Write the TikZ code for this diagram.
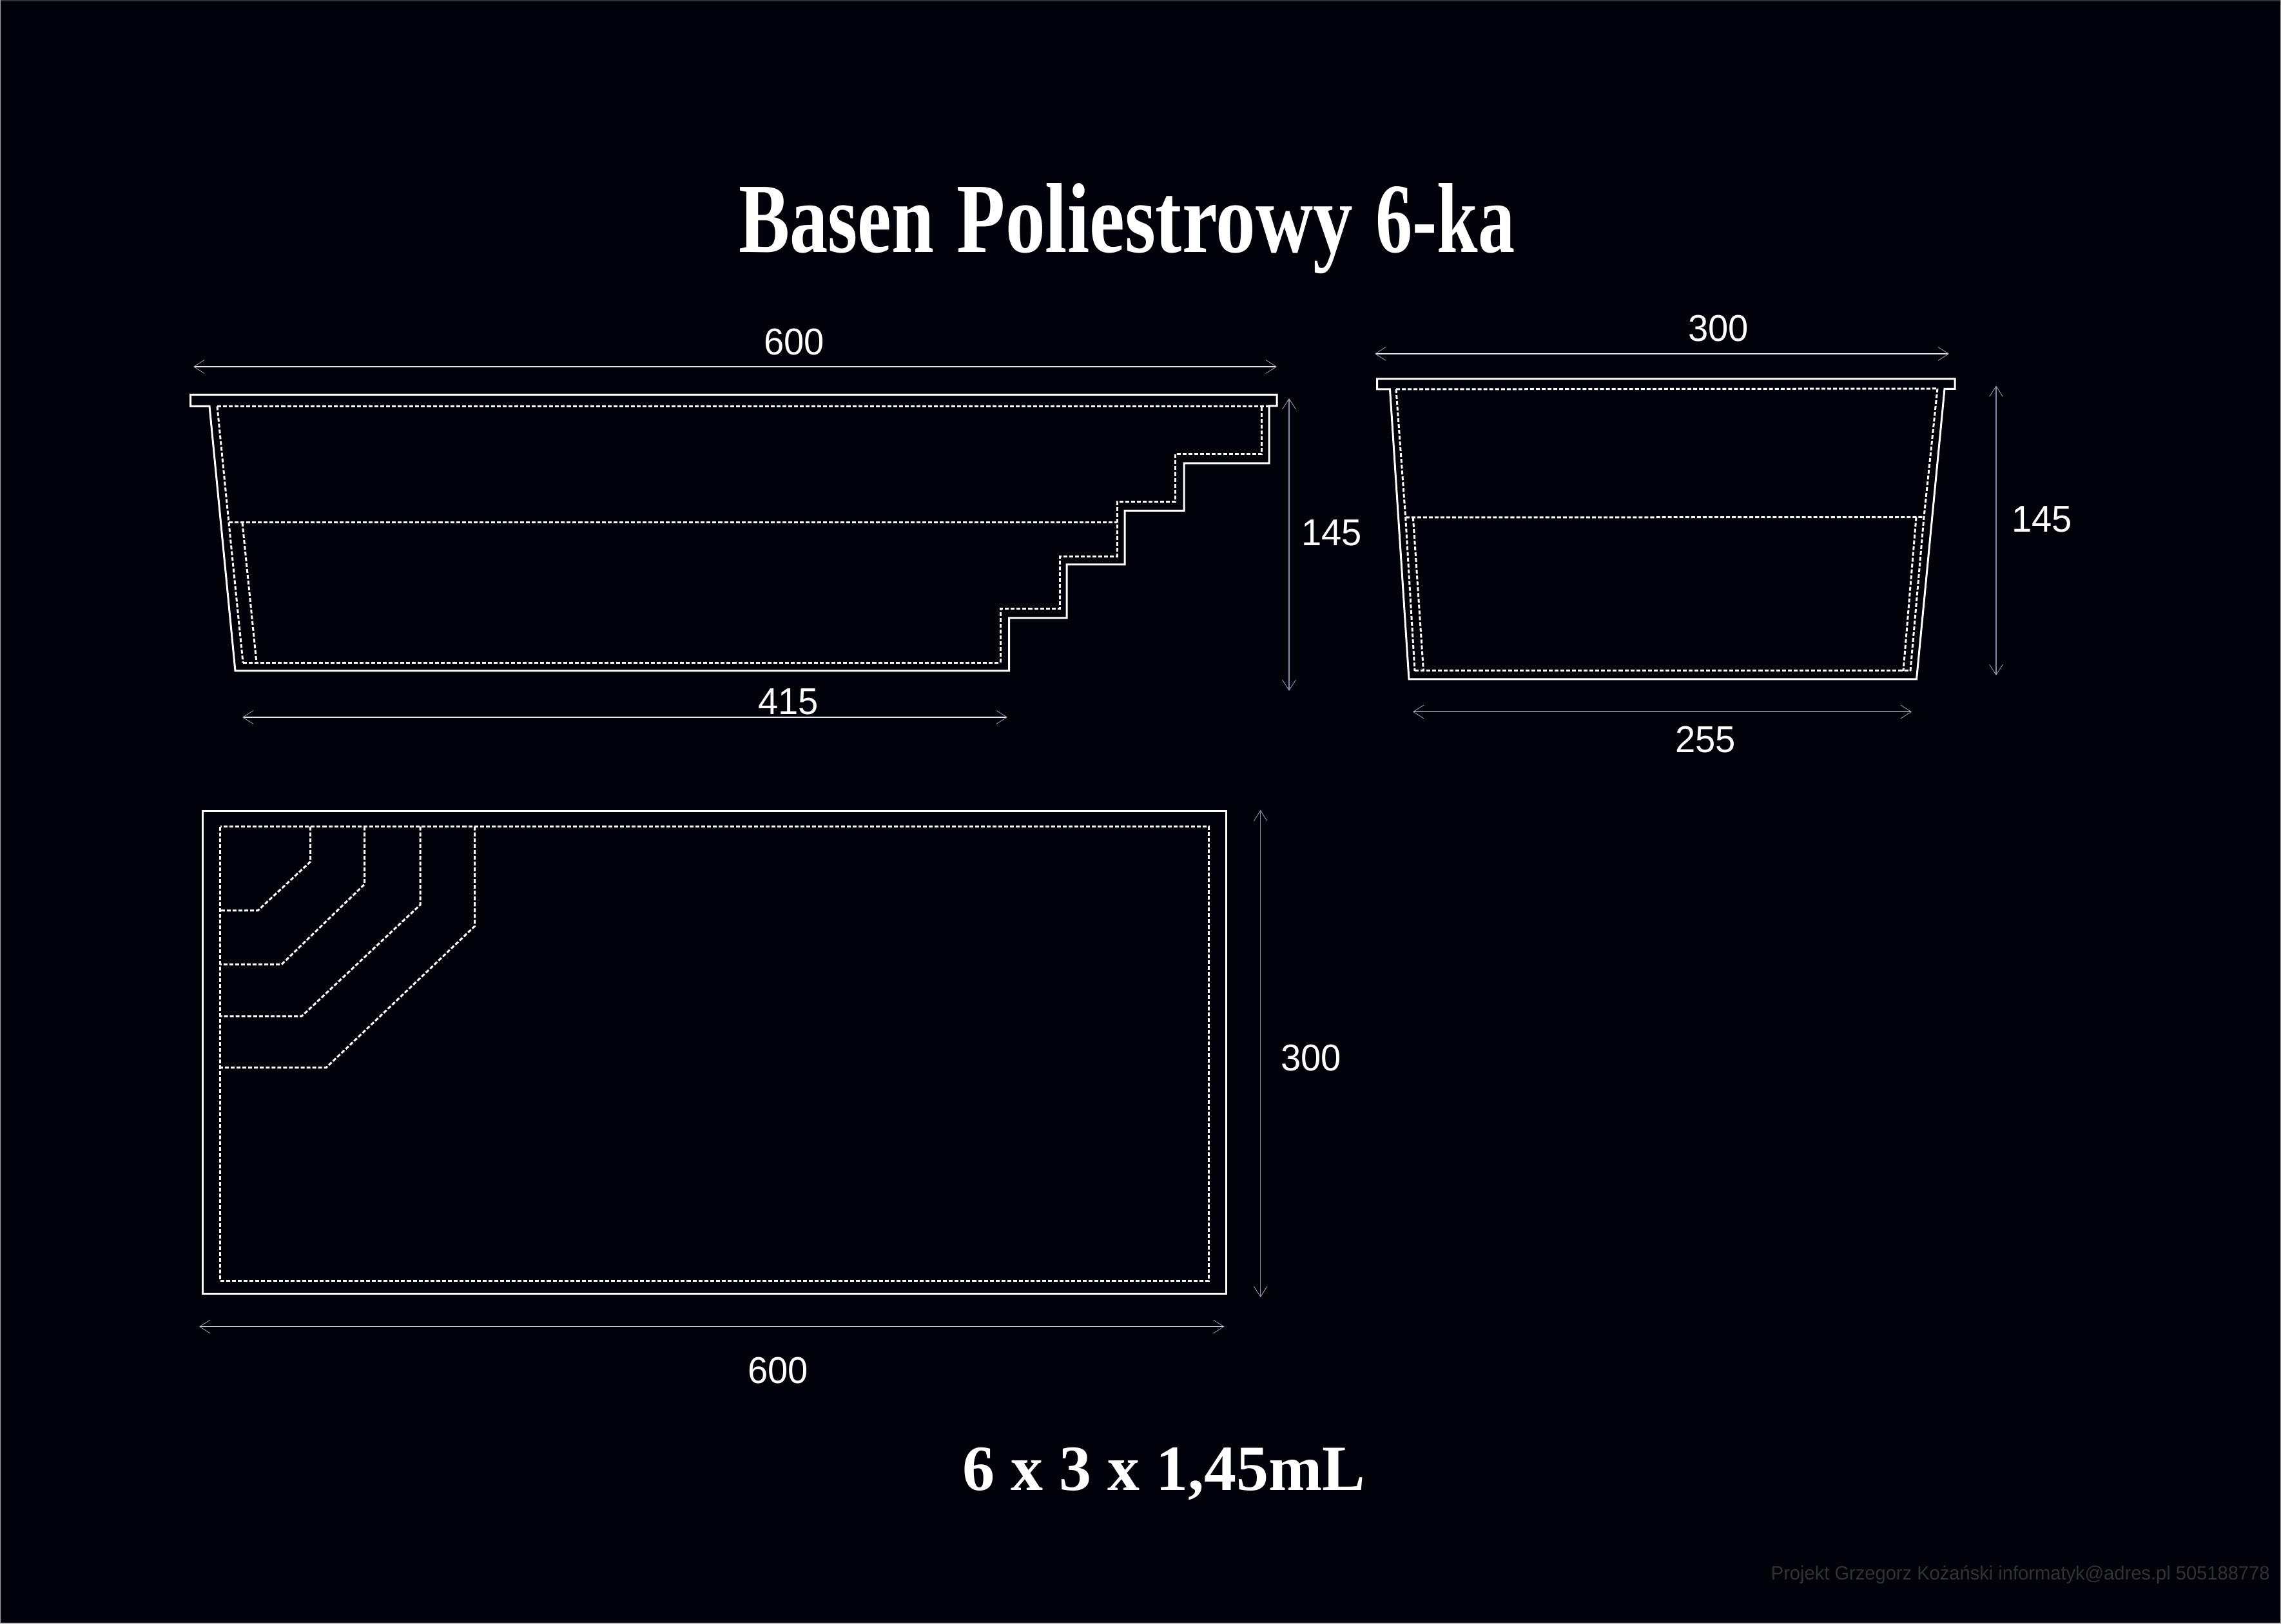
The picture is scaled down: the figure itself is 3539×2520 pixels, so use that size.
\documentclass[tikz,border=0pt]{standalone}
\usepackage{fontspec}
\usepackage{graphicx}
\setmainfont{Liberation Sans}
\newfontfamily\serifbold[BoldFont={Liberation Serif Bold}]{Liberation Serif}
\usetikzlibrary{arrows.meta}
\definecolor{bgc}{HTML}{02020A}
\definecolor{dimh}{HTML}{E4E4EE}
\definecolor{dimv}{HTML}{8C8CA8}
\definecolor{dimt}{HTML}{9A9AB8}
\definecolor{footc}{HTML}{2E3337}
\newcommand{\dl}[1]{\scalebox{0.97}[1]{#1}}
\newcommand{\tw}[2]{\resizebox{#1}{\height}{#2}}
\tikzset{
  solidline/.style={draw=white,line width=0.72pt,line join=miter},
  dashline/.style={draw=white,line width=0.72pt,dash pattern=on 1.45pt off 0.72pt},
  dimhline/.style={draw=dimh,line width=0.28pt,{Straight Barb[length=3.9pt,width=5pt,line width=0.2pt,color=dimt]}-{Straight Barb[length=3.9pt,width=5pt,line width=0.2pt,color=dimt]}},
  dimvline/.style={draw=dimv,line width=0.34pt,{Straight Barb[length=3.9pt,width=5pt,line width=0.2pt,color=dimt]}-{Straight Barb[length=3.9pt,width=5pt,line width=0.2pt,color=dimt]}},
  dimlabel/.style={text=white,inner sep=0pt,font=\fontsize{13.9pt}{13.9pt}\selectfont},
}
\begin{document}
\begin{tikzpicture}[x=0.24pt,y=-0.24pt]
\useasboundingbox (0,0) rectangle (3539,2520);
\fill[bgc] (0,0) rectangle (3539,2520);
% thin edge of the sheet
\fill[black!80!white] (0,0) rectangle (3539,2);
\fill[black!35!white] (0,0) rectangle (1.5,2520);
\fill[black!35!white] (3537.5,0) rectangle (3539,2520);
\fill[black!25!white] (0,2518) rectangle (3539,2520);

% side view - long section
\draw[solidline] (325,630.5) -- (295.5,630.5) -- (295.5,612.5) -- (1981,612.5) -- (1981,630) -- (1969,630)
  -- (1969,719) -- (1837,719) -- (1837,792.5) -- (1745,792.5) -- (1745,876) -- (1655,876) -- (1655,959)
  -- (1565.5,959) -- (1565.5,1041) -- (365,1041) -- cycle;
\draw[dashline] (337,630.5) -- (1969,630.5);
\draw[dashline] (337,630.5) -- (355,811) -- (377,1028.5);
\draw[dashline] (376,811) -- (398,1028.5);
\draw[dashline] (355,811) -- (1733,811);
\draw[dashline] (377,1028.5) -- (1552,1028.5) -- (1552,945) -- (1644,945) -- (1644,864) -- (1733,864) -- (1733,779)
  -- (1823,779) -- (1823,705) -- (1957.5,705) -- (1957.5,630.5);

% side view - cross section
\draw[solidline] (2156.5,604) -- (2136.7,604) -- (2136.7,588) -- (3033,588) -- (3033,603.5) -- (3017,603.5)
  -- (2973.5,1054) -- (2186,1054) -- cycle;
\draw[dashline] (2166,604) -- (3006,603);
\draw[dashline] (2166,604) -- (2180.7,803) -- (2195,1041);
\draw[dashline] (2192.4,803) -- (2208.5,1041);
\draw[dashline] (2180.7,803) -- (2985,802.5);
\draw[dashline] (2195,1041) -- (2964,1041);
\draw[dashline] (3006,603) -- (2985,802.5) -- (2964,1041);
\draw[dashline] (2973,802.5) -- (2953,1041);

% plan
\draw[solidline] (314,1258.5) rectangle (1902.7,2007.5);
\draw[dashline] (341.7,1282.7) rectangle (1875.7,1987.5);
\draw[dashline] (481.7,1282.7) -- (481.7,1337) -- (400,1413) -- (341.7,1413);
\draw[dashline] (565.7,1282.7) -- (565.7,1372) -- (436.7,1496.7) -- (341.7,1496.7);
\draw[dashline] (652,1282.7) -- (652,1404) -- (468,1577) -- (341.7,1577);
\draw[dashline] (736.7,1282.7) -- (736.7,1437) -- (506,1656.7) -- (341.7,1656.7);

% dimension lines
\coordinate (a1) at (300,569); \coordinate (a2) at (1981,569);
\coordinate (b1) at (376,1113); \coordinate (b2) at (1563,1113);
\coordinate (c1) at (2000,618); \coordinate (c2) at (2000,1072);
\coordinate (d1) at (2133,549); \coordinate (d2) at (3024,549);
\coordinate (e1) at (2192,1104.5); \coordinate (e2) at (2966,1104.5);
\coordinate (f1) at (3097,598.5); \coordinate (f2) at (3097,1048);
\coordinate (g1) at (309,2058.5); \coordinate (g2) at (1899.5,2058.5);
\coordinate (h1) at (1955.7,1257); \coordinate (h2) at (1955.7,2013);
\draw[dimhline] (a1) -- (a2);
\draw[dimhline] (b1) -- (b2);
\draw[dimvline] (c1) -- (c2);
\draw[dimhline] (d1) -- (d2);
\draw[dimhline] (e1) -- (e2);
\draw[dimvline] (f1) -- (f2);
\draw[dimhline] (g1) -- (g2);
\draw[dimvline] (h1) -- (h2);

% dimension labels
\node[dimlabel] (la) at (1232,531) {\dl{600}};
\node[dimlabel] (lb) at (1223,1089) {\dl{415}};
\node[dimlabel] (lc) at (2066,827) {\dl{145}};
\node[dimlabel] (ld) at (2666,510) {\dl{300}};
\node[dimlabel] (le) at (2646,1148) {\dl{255}};
\node[dimlabel] (lf) at (3168,806) {\dl{145}};
\node[dimlabel] (lg) at (1207,2127) {\dl{600}};
\node[dimlabel] (lh) at (2034,1642) {\dl{300}};

% titles
\node[anchor=base west,inner sep=0pt,text=white] (title) at (1145.5,391.5)
  {\fontsize{37pt}{37pt}\selectfont\serifbold\bfseries\tw{72.72pt}{Basen}\hspace{8.5pt}\tw{147.36pt}{Poliestrowy}\hspace{8.5pt}\tw{51.84pt}{6-ka}};
\node[anchor=base west,inner sep=0pt,text=white] (sub) at (1493,2312)
  {\resizebox{149.9pt}{\height}{\fontsize{24pt}{24pt}\selectfont\serifbold\bfseries 6 x 3 x 1,45mL}};
\node[anchor=base west,inner sep=0pt,text=footc] (foot) at (2747,2451.5)
  {\resizebox{185.7pt}{\height}{\fontsize{7.2pt}{7.2pt}\selectfont Projekt Grzegorz Kożański informatyk@adres.pl 505188778}};
\end{tikzpicture}
\end{document}
